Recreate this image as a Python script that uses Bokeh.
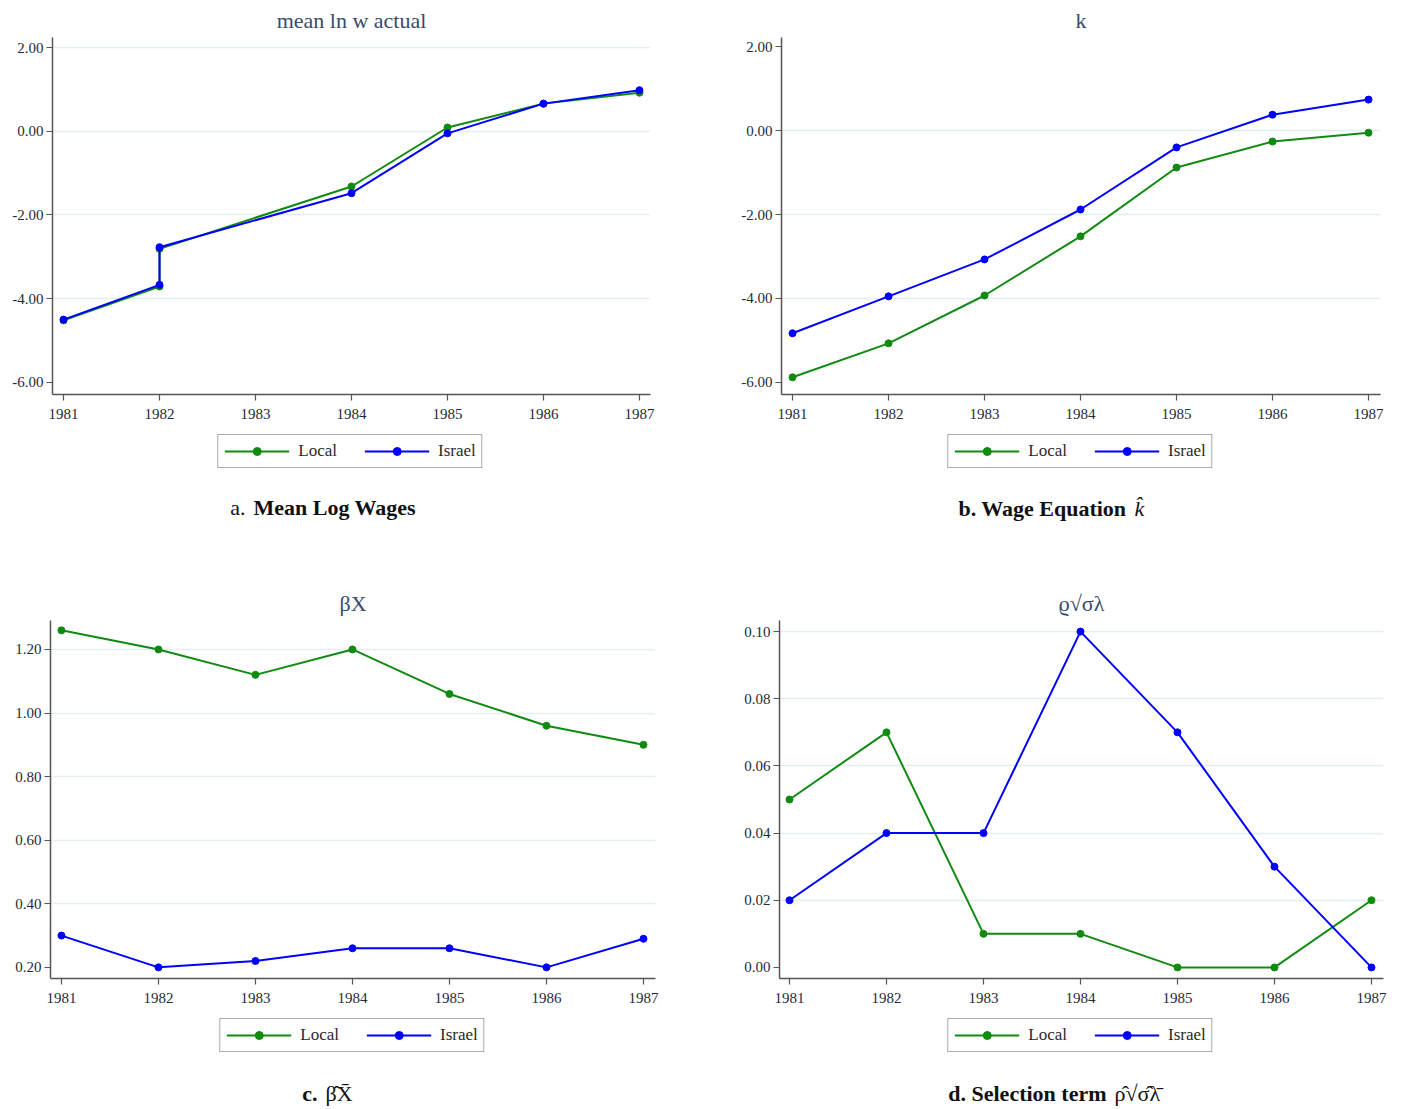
from bokeh.plotting import figure
from bokeh.models import (FixedTicker, PrintfTickFormatter, Range1d, Legend, LegendItem)
from bokeh.layouts import column, row
from bokeh.core.properties import value
from bokeh.embed import file_html
from bokeh.resources import INLINE

# ---------------- data ----------------
years = [1981, 1982, 1983, 1984, 1985, 1986, 1987]
year_labels = ["1981", "1982", "1983", "1984", "1985", "1986", "1987"]

# panel a: 1982 appears twice in the source series
a_years = [1981, 1982, 1982, 1984, 1985, 1986, 1987]
a_local = [-4.52, -3.71, -2.81, -1.32, 0.09, 0.66, 0.92]
a_israel = [-4.50, -3.67, -2.77, -1.48, -0.05, 0.66, 0.98]

b_local = [-5.88, -5.07, -3.93, -2.52, -0.88, -0.26, -0.05]
b_israel = [-4.83, -3.95, -3.07, -1.88, -0.40, 0.38, 0.74]

c_local = [1.26, 1.20, 1.12, 1.20, 1.06, 0.96, 0.90]
c_israel = [0.30, 0.20, 0.22, 0.26, 0.26, 0.20, 0.29]

d_local = [0.05, 0.07, 0.01, 0.01, 0.00, 0.00, 0.02]
d_israel = [0.02, 0.04, 0.04, 0.10, 0.07, 0.03, 0.00]

ab_yticks = [2.0, 0.0, -2.0, -4.0, -6.0]
c_yticks = [1.2, 1.0, 0.8, 0.6, 0.4, 0.2]
d_yticks = [0.10, 0.08, 0.06, 0.04, 0.02, 0.00]

series_names = ["Local", "Israel"]
titles = ["mean ln w actual", "k", "\u03b2X", "\u03f1\u221a\u03c3\u03bb"]
captions = [
    [("a.", "normal"), ("Mean Log Wages", "bold")],
    [("b. Wage Equation", "bold"), ("k\u0302", "italic")],
    [("c.", "bold"), ("\u03b2\u0302X\u0304", "normal")],
    [("d. Selection term", "bold"), ("\u03c1\u0302\u221a\u03c3\u0302\u03bb\u0304", "normal")],
]

GREEN = "#108a10"
BLUE = "#0000ff"
SERIF = "Liberation Serif"
TICK_COLOR = "#1f2a3c"
TITLE_COLOR = "#3a4a6e"
NAN = float("nan")


def make_panel(xs, local, israel, yrange, xrange, yticks, gridticks, w, h,
               bl, br, bt, bb, title):
    p = figure(width=w, height=h, min_border_left=bl,
               min_border_right=br, min_border_top=bt, min_border_bottom=bb,
               output_backend="svg", toolbar_location=None,
               x_range=Range1d(*xrange), y_range=Range1d(*yrange))
    p.outline_line_color = None
    p.xgrid.visible = False
    p.ygrid.ticker = FixedTicker(ticks=gridticks)
    p.ygrid.grid_line_color = "#e4eef1"
    p.ygrid.grid_line_width = 1.5

    p.title.text = title
    p.title.align = "center"
    p.title.text_font = SERIF
    p.title.text_font_size = "22px"
    p.title.text_font_style = "normal"
    p.title.text_color = TITLE_COLOR
    p.title.standoff = 10

    for ax in (p.xaxis[0], p.yaxis[0]):
        ax.axis_line_color = "#555555"
        ax.axis_line_width = 1.5
        ax.major_tick_line_color = "#555555"
        ax.major_tick_line_width = 1.2
        ax.major_tick_out = 6
        ax.major_tick_in = 0
        ax.minor_tick_line_color = None
        ax.major_label_text_font = SERIF
        ax.major_label_text_font_size = "15px"
        ax.major_label_text_color = TICK_COLOR
    p.xaxis.ticker = FixedTicker(ticks=years)
    p.xaxis.major_label_overrides = {y: l for y, l in zip(years, year_labels)}
    p.xaxis.major_label_standoff = 8
    p.yaxis.ticker = FixedTicker(ticks=yticks)
    p.yaxis.formatter = PrintfTickFormatter(format="%.2f")
    p.yaxis.major_label_standoff = 3

    p.line(xs, local, line_color=GREEN, line_width=2)
    p.scatter(xs, local, size=7, fill_color=GREEN, line_color=GREEN)
    p.line(xs, israel, line_color=BLUE, line_width=2)
    p.scatter(xs, israel, size=7, fill_color=BLUE, line_color=BLUE)
    return p


def make_footer(parts, w, h, bl, anchor, ytext, margin):
    fw = w - bl
    f = figure(width=w, height=h, output_backend="svg", toolbar_location=None,
               x_range=Range1d(0, fw), y_range=Range1d(0, h),
               min_border_left=bl, min_border_right=0, min_border_top=0,
               min_border_bottom=0, outline_line_color=None)
    f.axis.visible = False
    f.grid.visible = False
    # legend-only renderers (no visible data in this strip)
    lg = f.line(x=[NAN], y=[NAN], line_color=GREEN, line_width=2)
    sg = f.scatter(x=[NAN], y=[NAN], size=7, fill_color=GREEN, line_color=GREEN)
    lb = f.line(x=[NAN], y=[NAN], line_color=BLUE, line_width=2)
    sb = f.scatter(x=[NAN], y=[NAN], size=7, fill_color=BLUE, line_color=BLUE)
    legend = Legend(items=[LegendItem(label=series_names[0], renderers=[lg, sg]),
                           LegendItem(label=series_names[1], renderers=[lb, sb])],
                    orientation="horizontal", location="top_center")
    legend.label_text_font = SERIF
    legend.label_text_font_size = "17px"
    legend.label_text_color = "#2a2a2a"
    legend.glyph_width = 65
    legend.glyph_height = 20
    legend.label_standoff = 9
    legend.spacing = 27
    legend.padding = 6
    legend.margin = margin
    legend.border_line_color = "#555555"
    legend.border_line_width = 1.5
    legend.background_fill_alpha = 1
    f.add_layout(legend, "center")

    (t1, s1), (t2, s2) = parts
    f.text(x=[anchor], y=[ytext], text=[t1], text_align="right",
           text_baseline="middle", text_font=value(SERIF), text_font_size="22px",
           text_font_style=s1, text_color="#111111")
    f.text(x=[anchor + 8], y=[ytext], text=[t2], text_align="left",
           text_baseline="middle", text_font=value(SERIF), text_font_size="22px",
           text_font_style=s2, text_color="#111111")
    return f


pa = make_panel(a_years, a_local, a_israel, (-6.29, 2.24), (1980.885, 1987.115),
                ab_yticks, [2.0, 0.0, -2.0, -4.0], 700, 427, 52, 50, 36, 32, titles[0])
pb = make_panel(years, b_local, b_israel, (-6.29, 2.22), (1980.885, 1987.125),
                ab_yticks, [0.0, -2.0, -4.0], 701, 427, 81, 21, 36, 33, titles[1])
pc = make_panel(years, c_local, c_israel, (0.165, 1.291), (1980.887, 1987.124),
                c_yticks, [1.2, 1.0, 0.8, 0.6, 0.4], 700, 456, 50, 45, 66, 32, titles[2])
pd_ = make_panel(years, d_local, d_israel, (-0.0033, 0.1033), (1980.897, 1987.124),
                 d_yticks, [0.10, 0.08, 0.06, 0.04, 0.02], 701, 456, 79, 18, 66, 32, titles[3])

fa = make_footer(captions[0], 700, 127, 0, 245, 47, 7)
fb = make_footer(captions[1], 701, 127, 59, 367, 46, 7)
fc = make_footer(captions[2], 700, 99, 4, 313, 16, 8)
fd = make_footer(captions[3], 701, 99, 59, 347, 16, 8)

layout = column(row(pa, pb), row(fa, fb), row(pc, pd_), row(fc, fd))

open("out.html", "w").write(file_html(layout, INLINE))
